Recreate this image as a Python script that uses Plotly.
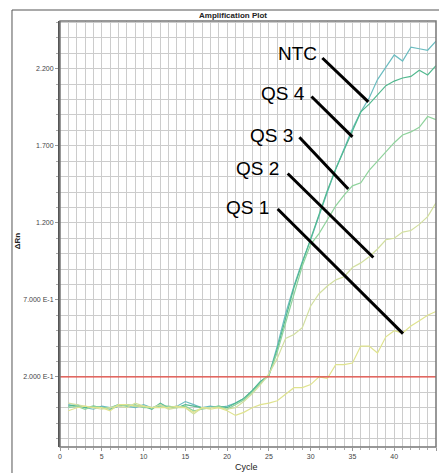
import plotly.graph_objects as go

# Amplification plot: delta Rn per PCR cycle for five wells
cycles = list(range(1, 46))

ntc = [0.02, 0.01, 0.00, -0.01, 0.01, 0.00, 0.02, 0.01, 0.00, 0.02,
       0.00, 0.02, 0.00, 0.01, 0.04, 0.02, 0.00, 0.01, 0.00, 0.01,
       0.03, 0.06, 0.11, 0.17, 0.21, 0.40, 0.61, 0.79, 0.95, 1.09,
       1.25, 1.40, 1.55, 1.68, 1.81, 1.92, 2.01, 2.13, 2.21, 2.29,
       2.25, 2.34, 2.33, 2.32, 2.38]
qs4 = [0.01, 0.02, 0.00, 0.01, 0.00, -0.01, 0.01, 0.02, 0.01, 0.01,
       -0.01, 0.03, 0.00, 0.00, 0.02, 0.01, 0.00, 0.00, 0.01, 0.00,
       0.03, 0.06, 0.11, 0.17, 0.21, 0.38, 0.58, 0.78, 0.94, 1.10,
       1.26, 1.41, 1.55, 1.67, 1.79, 1.92, 1.97, 2.03, 2.09, 2.12,
       2.14, 2.15, 2.19, 2.16, 2.22]
qs3 = [0.00, 0.01, -0.01, 0.01, 0.00, 0.00, 0.02, 0.01, 0.02, 0.00,
       0.00, 0.01, 0.01, 0.00, 0.01, -0.02, -0.01, 0.00, 0.01, -0.01,
       0.02, 0.05, 0.10, 0.16, 0.21, 0.36, 0.55, 0.74, 0.92, 1.06,
       1.13, 1.22, 1.31, 1.38, 1.44, 1.46, 1.54, 1.60, 1.66, 1.72,
       1.77, 1.79, 1.82, 1.89, 1.87]
qs2 = [0.03, 0.02, 0.01, 0.00, -0.01, 0.00, 0.01, 0.00, 0.03, 0.01,
       0.00, 0.02, -0.01, 0.00, 0.00, -0.04, 0.00, 0.00, 0.00, -0.01,
       0.00, 0.04, 0.09, 0.15, 0.22, 0.32, 0.45, 0.475, 0.52, 0.66,
       0.74, 0.79, 0.83, 0.85, 0.91, 0.94, 0.98, 1.03, 1.09, 1.10,
       1.14, 1.15, 1.19, 1.24, 1.33]
qs1 = [-0.02, 0.00, 0.01, 0.00, 0.00, -0.02, 0.02, 0.02, 0.01, 0.01,
       0.00, 0.00, 0.00, 0.01, 0.00, -0.03, 0.00, -0.01, 0.00, -0.02,
       -0.05, -0.03, 0.00, 0.02, 0.03, 0.045, 0.085, 0.13, 0.13, 0.15,
       0.20, 0.19, 0.28, 0.28, 0.29, 0.40, 0.40, 0.355, 0.46, 0.50,
       0.485, 0.53, 0.565, 0.60, 0.625]

series = [ntc, qs4, qs3, qs2, qs1]
series_colors = ["#6bbcc0", "#52b98f", "#8fd39c", "#d2df9f", "#dfe38e"]

threshold = 0.2

x_ticks = [0, 5, 10, 15, 20, 25, 30, 35, 40, 45]
y_ticks = [0.2, 0.7, 1.2, 1.7, 2.2]
y_tick_text = ["2.000 E-1", "7.000 E-1", "1.200", "1.700", "2.200"]

labels = ["NTC", "QS 4", "QS 3", "QS 2", "QS 1"]
# text anchor (cycle, dRn) and leader line from/to (cycle, dRn)
label_pos = [(31.05, 2.30), (29.6, 2.04), (28.1, 1.77), (26.5, 1.55), (25.3, 1.30)]
leader_lines = [((31.4, 2.27), (36.9, 1.985)),
                ((30.1, 2.02), (35.0, 1.758)),
                ((28.65, 1.755), (34.5, 1.42)),
                ((27.25, 1.52), (37.5, 0.975)),
                ((26.05, 1.29), (41.05, 0.481))]

fig = go.Figure()

for vals, col in zip(series, series_colors):
    fig.add_trace(go.Scatter(x=cycles, y=vals, mode="lines",
                             line=dict(color=col, width=1.2),
                             showlegend=False, hoverinfo="skip"))

fig.add_trace(go.Scatter(x=[0, 45], y=[threshold, threshold], mode="lines",
                         line=dict(color="#e5473f", width=1.3),
                         showlegend=False, hoverinfo="skip"))

shapes = []
for (p0, p1) in leader_lines:
    shapes.append(dict(type="line", xref="x", yref="y",
                       x0=p0[0], y0=p0[1], x1=p1[0], y1=p1[1],
                       line=dict(color="black", width=3)))

# outer panel frame (left and top edges)
shapes.append(dict(type="line", xref="paper", yref="paper",
                   x0=-0.1277, y0=1.0258, x1=1.2, y1=1.0258,
                   line=dict(color="#555555", width=1)))
shapes.append(dict(type="line", xref="paper", yref="paper",
                   x0=-0.1277, y0=1.0258, x1=-0.1277, y1=-0.2,
                   line=dict(color="#555555", width=1)))
# plot area border
shapes.append(dict(type="rect", xref="paper", yref="paper",
                   x0=0, y0=0, x1=1, y1=1,
                   line=dict(color="#777777", width=1.5)))

annotations = []
for txt, (cx, cy) in zip(labels, label_pos):
    annotations.append(dict(x=cx, y=cy, xref="x", yref="y", text=txt,
                            showarrow=False, xanchor="right", yanchor="middle",
                            font=dict(family="Arial", size=19, color="black")))

annotations.append(dict(x=0.46, y=1.012, xref="paper", yref="paper",
                        text="<b>Amplification Plot</b>", showarrow=False,
                        xanchor="center", yanchor="middle",
                        font=dict(family="Arial", size=8, color="#222222")))
annotations.append(dict(x=-0.112, y=0.485, xref="paper", yref="paper",
                        text="<b>ΔRn</b>", showarrow=False, textangle=-90,
                        xanchor="center", yanchor="middle",
                        font=dict(family="Arial", size=8, color="#222222")))
annotations.append(dict(x=0.497, y=-0.047, xref="paper", yref="paper",
                        text="Cycle", showarrow=False,
                        xanchor="center", yanchor="middle",
                        font=dict(family="Arial", size=9, color="#222222")))

grid_col = "#cccccc"

fig.update_layout(
    width=439, height=473,
    margin=dict(l=60, r=3, t=21, b=26),
    paper_bgcolor="white", plot_bgcolor="white",
    shapes=shapes, annotations=annotations,
    xaxis=dict(range=[0, 45], tickmode="array", tickvals=x_ticks,
               ticks="outside", ticklen=3, tickcolor="#999999",
               showgrid=True, gridcolor=grid_col, gridwidth=1,
               zeroline=False, showline=False,
               tickfont=dict(family="Arial", size=7, color="#444444"),
               minor=dict(dtick=1, showgrid=True, gridcolor=grid_col,
                          ticks="outside", ticklen=2, tickcolor="#aaaaaa")),
    yaxis=dict(range=[-0.255, 2.51], tickmode="array", tickvals=y_ticks,
               ticktext=y_tick_text,
               ticks="outside", ticklen=3, tickcolor="#999999",
               showgrid=True, gridcolor=grid_col, gridwidth=1,
               zeroline=False, showline=True, linecolor="#555555", linewidth=2,
               tickfont=dict(family="Arial", size=7, color="#444444"),
               minor=dict(tick0=0.2, dtick=0.1, showgrid=True, gridcolor=grid_col,
                          ticks="outside", ticklen=2, tickcolor="#aaaaaa")),
)

fig.write_html("out.html")
